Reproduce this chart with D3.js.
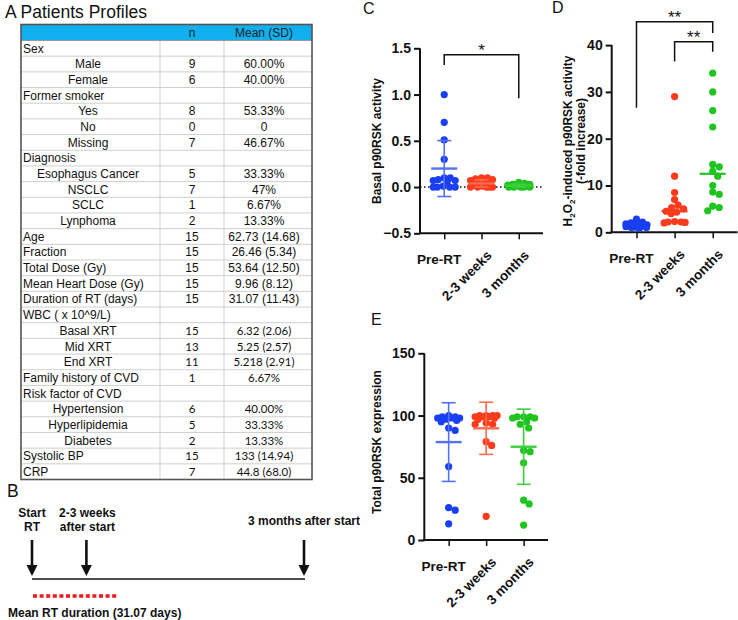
<!DOCTYPE html>
<html><head><meta charset="utf-8">
<script src="https://cdn.jsdelivr.net/npm/d3@7"></script>
<style>body{margin:0;background:#fff} svg{display:block}</style>
</head><body>
<svg id="fig" width="738" height="620"></svg>
<script>
// ---------------- DATA ----------------
const tableHeader = ["", "n", "Mean (SD)"];
const tableLabels = ["Sex","Male","Female","Former smoker","Yes","No","Missing","Diagnosis","Esophagus Cancer","NSCLC","SCLC","Lynphoma","Age","Fraction","Total Dose (Gy)","Mean Heart Dose (Gy)","Duration of RT (days)","WBC ( x 10^9/L)","Basal XRT","Mid XRT","End XRT","Family history of CVD","Risk factor of CVD","Hypertension","Hyperlipidemia","Diabetes","Systolic BP","CRP"];
const tableSubItem = [0,1,1,0,1,1,1,0,1,1,1,1,0,0,0,0,0,0,1,1,1,0,0,1,1,1,0,0];
const tableN = ["","9","6","","8","0","7","","5","7","1","2","15","15","15","15","15","","15","13","11","1","","6","5","2","15","7"];
const tableMean = ["","60.00%","40.00%","","53.33%","0","46.67%","","33.33%","47%","6.67%","13.33%","62.73 (14.68)","26.46 (5.34)","53.64 (12.50)","9.96 (8.12)","31.07 (11.43)","","6.32 (2.06)","5.25 (2.57)","5.218 (2.91)","6.67%","","40.00%","33.33%","13.33%","133 (14.94)","44.8 (68.0)"];

const timelineLabels = [["Start","RT"],["2-3 weeks","after start"],["3 months after start"]];
const timelineDays = [0, 18, 90];
const rtDurationLabel = "Mean RT duration (31.07 days)";
const rtDurationDays = 28;

const groups = ["Pre-RT", "2-3 weeks", "3 months"];

const basalPre   = [1.0, 0.7, 0.51, 0.3, 0.10, 0.10, 0.08, 0.07, 0.07, 0.06, 0.01, 0.0, 0.0, 0.0, 0.0];
const basalWeeks = [0.10, 0.10, 0.09, 0.08, 0.07, 0.05, 0.04, 0.03, 0.02, 0.01, 0.0, 0.0, 0.0, 0.0, 0.0];
const basal3m    = [0.05, 0.04, 0.03, 0.03, 0.02, 0.02, 0.02, 0.01, 0.01, 0.01, 0.0, 0.0, 0.0, 0.0, 0.0];
const basalTicks = [-0.5, 0, 0.5, 1.0, 1.5];

const h2o2Pre   = [2.8, 2.2, 2.0, 1.8, 1.7, 1.6, 1.5, 1.5, 1.4, 1.3, 1.2, 1.1, 1.0, 1.0, 0.9];
const h2o2Weeks = [29, 12, 8.5, 7, 5.8, 5.3, 5.0, 4.5, 4.3, 4.0, 2.3, 2.2, 2.2, 2.1, 2.0];
const h2o23m    = [34, 30, 26, 22.5, 14.5, 14, 13, 12, 10, 8.6, 8.1, 5.6, 5.3, 4.6];
const h2o2Ticks = [0, 10, 20, 30, 40];

const totalPre   = [100, 99, 99, 98, 98, 98, 97, 96, 95, 90, 88, 59, 26, 24, 13];
const totalWeeks = [100, 100, 100, 100, 99, 99, 99, 98, 97, 94, 93, 93, 79, 76, 19];
const total3m    = [99, 99, 99, 98, 98, 95, 93, 90, 72, 71, 62, 32, 29, 12];
const totalTicks = [0, 50, 100, 150];

const sigC = [{from:"Pre-RT", to:"3 months", top:1.43, leftEnd:1.32, rightEnd:0.96, label:"*"}];
const sigD = [{from:"Pre-RT", to:"3 months", top:45.0, leftEnd:26.6, rightEnd:42.6, label:"**"},
              {from:"2-3 weeks", to:"3 months", top:40.7, leftEnd:36.5, rightEnd:38.6, label:"**"}];

// ---------------- STYLE ----------------
const colors = ["#1a3ff2", "#fb3b1c", "#1fc41f"];
const barColors = ["#5272f5", "#fd6a4e", "#3fcc3f"];
const FONT = "'Liberation Sans', Arial, sans-serif";
const svg = d3.select("#fig").style("font-family", FONT);

// ---------------- PANEL A: TABLE ----------------
(function(){
  svg.append("text").attr("x", 5).attr("y", 18).attr("font-size", 17.5).attr("fill","#111").text("A Patients Profiles");
  const colX = [21, 160, 224, 312];
  const headTop = 24.5, headBot = 40.5;
  const rowH = (479.5 - headBot) / tableLabels.length;
  const rowY = d3.scaleLinear().domain([0, tableLabels.length]).range([headBot, headBot + rowH*tableLabels.length]);
  const g = svg.append("g");
  g.append("rect").attr("x", colX[0]).attr("y", headTop).attr("width", colX[3]-colX[0]).attr("height", headBot-headTop).attr("fill", "#10afee");
  d3.range(1, tableLabels.length).forEach(i => {
    g.append("line").attr("x1", colX[0]).attr("x2", colX[3]).attr("y1", rowY(i)).attr("y2", rowY(i)).attr("stroke", "#cfcfcf").attr("stroke-width", 1);
  });
  [colX[1], colX[2]].forEach(x => {
    g.append("line").attr("x1", x).attr("x2", x).attr("y1", headBot).attr("y2", rowY(tableLabels.length)).attr("stroke", "#cfcfcf").attr("stroke-width", 1);
  });
  g.append("line").attr("x1", colX[0]).attr("x2", colX[3]).attr("y1", headBot).attr("y2", headBot).attr("stroke", "#9a9a9a").attr("stroke-width", 1);
  g.append("rect").attr("x", colX[0]).attr("y", headTop).attr("width", colX[3]-colX[0]).attr("height", rowY(tableLabels.length)-headTop)
    .attr("fill", "none").attr("stroke", "#555").attr("stroke-width", 1.6);
  g.append("text").attr("x", (colX[1]+colX[2])/2).attr("y", headBot-4).attr("text-anchor","middle").attr("font-size", 12).attr("fill","#222").text(tableHeader[1]);
  g.append("text").attr("x", (colX[2]+colX[3])/2 - 4).attr("y", headBot-4).attr("text-anchor","middle").attr("font-size", 12).attr("fill","#222").text(tableHeader[2]);
  tableLabels.forEach((lab, i) => {
    const yb = rowY(i) + rowH/2 + 4.3;
    const sub = tableSubItem[i] === 1;
    g.append("text").attr("x", sub ? 88 : colX[0]+2).attr("y", yb).attr("text-anchor", sub ? "middle" : "start")
      .attr("font-size", 12).attr("fill", "#111").text(lab);
    const alt = i >= 18;
    g.append("text").attr("x", (colX[1]+colX[2])/2).attr("y", yb).attr("text-anchor","middle")
      .attr("font-size", alt ? 11.5 : 12).attr("font-family", alt ? "Lato, sans-serif" : FONT).attr("fill","#111").text(tableN[i]);
    g.append("text").attr("x", (colX[2]+colX[3])/2 - 4).attr("y", yb).attr("text-anchor","middle")
      .attr("font-size", alt ? 11.5 : 12).attr("font-family", alt ? "Lato, sans-serif" : FONT).attr("fill","#111").text(tableMean[i]);
  });
})();

// ---------------- PANEL B: TIMELINE ----------------
(function(){
  svg.append("text").attr("x", 7).attr("y", 497).attr("font-size", 17.5).attr("fill","#111").text("B");
  const x = d3.scaleLinear().domain([0, 90]).range([32, 304]);
  const g = svg.append("g").attr("font-weight", "bold").attr("font-size", 12);
  const lineY = 579;
  g.append("line").attr("x1", x(0)).attr("x2", x(90)+1).attr("y1", lineY).attr("y2", lineY).attr("stroke", "#111").attr("stroke-width", 1.5);
  timelineDays.forEach((d, i) => {
    const cx = x(d);
    g.append("line").attr("x1", cx).attr("x2", cx).attr("y1", 540).attr("y2", 566).attr("stroke", "#111").attr("stroke-width", 2.6);
    g.append("path").attr("d", `M${cx-5.5},${565} L${cx+5.5},${565} L${cx},${576} Z`).attr("fill", "#111");
    const labs = timelineLabels[i];
    if (labs.length === 2) {
      labs.forEach((t, k) => g.append("text").attr("x", cx + (i===0?0:1)).attr("y", 517 + k*14).attr("text-anchor","middle").attr("fill","#111").text(t));
    } else {
      g.append("text").attr("x", cx).attr("y", 525).attr("text-anchor","middle").attr("fill","#111").text(labs[0]);
    }
  });
  g.append("line").attr("x1", x(0)+1).attr("x2", x(rtDurationDays)).attr("y1", 596).attr("y2", 596)
    .attr("stroke", "#f01818").attr("stroke-width", 3.5).attr("stroke-dasharray", "4,2.6");
  g.append("text").attr("x", 8).attr("y", 617).attr("fill","#111").text(rtDurationLabel);
})();

// ---------------- SCATTER PANELS ----------------
// beeswarm-like horizontal placement, limited width (dots may overlap like Prism)
function swarm(vals, y, minDist, maxSpread) {
  const placed = [];
  const sorted = vals.map(v => ({v})).sort((a,b) => b.v - a.v);
  const cands = [0];
  for (let c = 0.5; c <= maxSpread + 1e-9; c += 0.5) { cands.push(c, -c); }
  sorted.forEach(p => {
    const py = y(p.v);
    let best = null, bestScore = -1, bestX = 0;
    for (const cx of cands) {
      const dmin = placed.length ? d3.min(placed, q => Math.hypot(q.dx - cx, q.y - py)) : Infinity;
      if (dmin >= minDist) { best = cx; break; }
      if (dmin > bestScore + 1e-6) { bestScore = dmin; bestX = cx; }
    }
    p.dx = best !== null ? best : bestX; p.y = py;
    placed.push(p);
  });
  return placed;
}

function panel(o) {
  const g = svg.append("g");
  const x = d3.scalePoint().domain(groups).range([o.x0, o.x1]).padding(0.65);
  const y = d3.scaleLinear().domain(o.domain).range([o.yBottom, o.yTop]);
  g.append("text").attr("x", o.letterX).attr("y", o.letterY).attr("font-size", 16).attr("fill", "#111").text(o.letter);
  if (o.zeroLine) {
    g.append("line").attr("x1", o.x0).attr("x2", o.x1).attr("y1", y(0)).attr("y2", y(0))
      .attr("stroke", "#111").attr("stroke-width", 1.5).attr("stroke-dasharray", "1.5,2.5");
  }
  const ya = g.append("g").attr("transform", `translate(${o.x0},0)`)
    .call(d3.axisLeft(y).tickValues(o.ticks).tickSize(6).tickPadding(3).tickFormat(o.fmt));
  ya.select(".domain").attr("stroke", "#111").attr("stroke-width", 2).attr("d", `M0,${y(o.domain[1])}V${y(o.domain[0])}`);
  ya.selectAll(".tick line").attr("stroke", "#111").attr("stroke-width", 2);
  ya.selectAll(".tick text").attr("font-family", FONT).attr("font-weight", "bold").attr("font-size", 14).attr("fill", "#111");
  const xa = g.append("g").attr("transform", `translate(0,${o.yBottom})`)
    .call(d3.axisBottom(x).tickSize(6).tickFormat(""));
  xa.select(".domain").attr("stroke", "#111").attr("stroke-width", 2).attr("d", `M${o.x0 - 1},0H${o.x1}`);
  xa.selectAll(".tick line").attr("stroke", "#111").attr("stroke-width", 1.5);
  groups.forEach((gname, i) => {
    const tx = x(gname);
    if (i === 0) {
      g.append("text").attr("x", tx - 5).attr("y", o.yBottom + 31).attr("text-anchor", "middle")
        .attr("font-weight", "bold").attr("font-size", 13.5).attr("fill", "#111").text(gname);
    } else {
      g.append("text").attr("transform", `translate(${tx + 11},${o.yBottom + 23}) rotate(-45)`).attr("text-anchor", "end")
        .attr("font-weight", "bold").attr("font-size", 13.5).attr("fill", "#111").text(gname);
    }
  });
  const lab = g.append("g").attr("font-weight", "bold").attr("font-size", 12).attr("fill", "#111");
  o.ylabel.forEach((line, k) => {
    const t = lab.append("text").attr("transform", `translate(${o.ylabelX[k]},${o.ylabelY}) rotate(-90)`).attr("text-anchor", "middle");
    line.forEach(seg => {
      const ts = t.append("tspan").text(seg.t);
      if (seg.sub) ts.attr("font-size", 8).attr("dy", 3);
      if (seg.after) ts.attr("dy", -3);
    });
  });
  o.data.forEach((vals, i) => {
    const cx = x(groups[i]);
    const pts = swarm(vals, y, o.minDist, o.maxSpread);
    g.append("g").selectAll("circle").data(pts).join("circle")
      .attr("cx", d => cx + d.dx).attr("cy", d => d.y).attr("r", 3.6).attr("fill", colors[i]);
    if (o.summary === "meansd") {
      const m = d3.mean(vals), s = d3.deviation(vals);
      const eb = g.append("g").attr("stroke", barColors[i]);
      eb.append("line").attr("x1", cx).attr("x2", cx).attr("y1", y(m - s)).attr("y2", y(m + s)).attr("stroke-width", 1.6);
      [m - s, m + s].forEach(v => eb.append("line").attr("x1", cx - 7).attr("x2", cx + 7).attr("y1", y(v)).attr("y2", y(v)).attr("stroke-width", 1.6));
      eb.append("line").attr("x1", cx - 13).attr("x2", cx + 13).attr("y1", y(m)).attr("y2", y(m)).attr("stroke-width", 2.4);
    } else {
      const md = d3.median(vals);
      g.append("line").attr("x1", cx - 13).attr("x2", cx + 13).attr("y1", y(md)).attr("y2", y(md)).attr("stroke", colors[i]).attr("stroke-width", 2.2);
    }
  });
  (o.sig || []).forEach(s => {
    const xa1 = x(s.from), xa2 = x(s.to);
    g.append("path").attr("d", `M${xa1},${y(s.leftEnd)}V${y(s.top)}H${xa2}V${y(s.rightEnd)}`)
      .attr("fill", "none").attr("stroke", "#111").attr("stroke-width", 1.5);
    g.append("text").attr("x", (xa1 + xa2)/2).attr("y", y(s.top) + 1).attr("text-anchor", "middle")
      .attr("font-size", 17).attr("fill", "#111").text(s.label);
  });
}

panel({letter:"C", letterX:363, letterY:14, x0:420, x1:543, yTop:48.3, yBottom:233.3, domain:[-0.5,1.5], ticks:basalTicks,
  fmt:d3.format(".1f"), zeroLine:true, data:[basalPre, basalWeeks, basal3m], summary:"meansd", minDist:6, maxSpread:11,
  ylabel:[[{t:"Basal p90RSK activity"}]], ylabelX:[381], ylabelY:141, sig:sigC});

panel({letter:"D", letterX:552, letterY:13, x0:611.7, x1:737.5, yTop:45.1, yBottom:232.3, domain:[0,40], ticks:h2o2Ticks,
  fmt:d3.format("d"), zeroLine:false, data:[h2o2Pre, h2o2Weeks, h2o23m], summary:"median", minDist:6.5, maxSpread:10.5,
  ylabel:[[{t:"H"},{t:"2",sub:true},{t:"O",after:true},{t:"2",sub:true},{t:"-induced p90RSK activity",after:true}],[{t:"(-fold increase)"}]],
  ylabelX:[572, 585], ylabelY:141, sig:sigD});

panel({letter:"E", letterX:371, letterY:325, x0:424.3, x1:548, yTop:353.3, yBottom:540, domain:[0,150], ticks:totalTicks,
  fmt:d3.format("d"), zeroLine:false, data:[totalPre, totalWeeks, total3m], summary:"meansd", minDist:6.5, maxSpread:11,
  ylabel:[[{t:"Total p90RSK expression"}]], ylabelX:[381], ylabelY:442, sig:[]});
</script>
</body></html>
